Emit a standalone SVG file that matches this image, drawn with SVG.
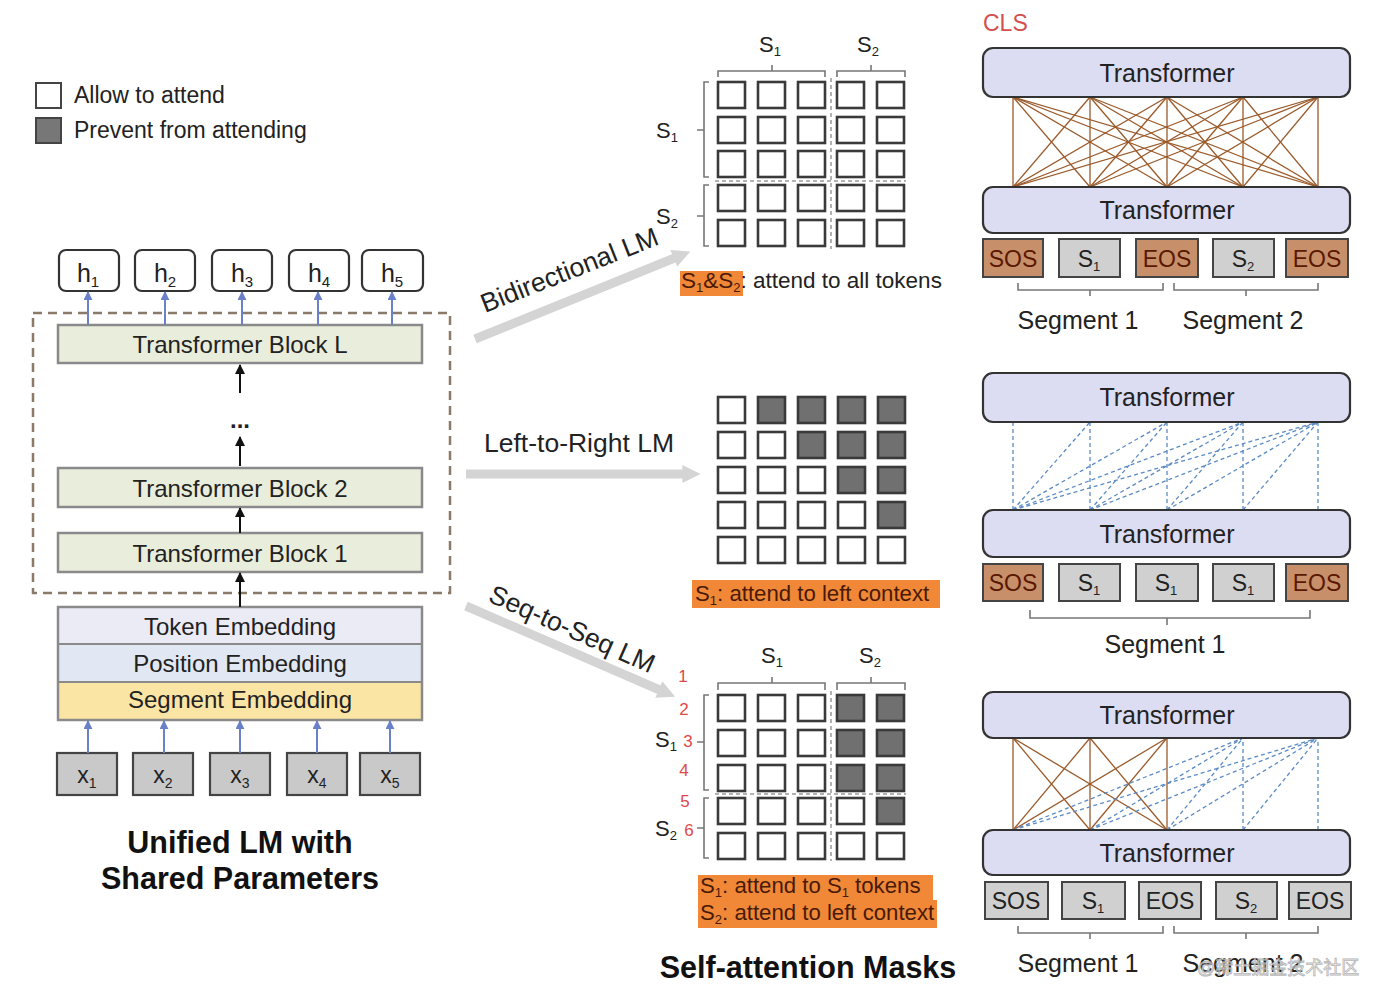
<svg xmlns="http://www.w3.org/2000/svg" width="1382" height="1004" viewBox="0 0 1382 1004">
<defs>
<style>
text{font-family:"Liberation Sans",Arial,sans-serif;fill:#222}
.lg{font-size:23px}
.ttl{font-size:30.5px;font-weight:bold;fill:#111;text-anchor:middle}
.blk{fill:#e9eddc;stroke:#8a8a8a;stroke-width:2.5}
.bt{font-size:24px;text-anchor:middle}
.hb{fill:#fff;stroke:#333;stroke-width:2.2}
.xb{fill:#c9c9c9;stroke:#444;stroke-width:2.2}
.ht{font-size:25px;text-anchor:middle}
.c{fill:#fff;stroke:#3a3a3a;stroke-width:2.6}
.d{fill:#707070;stroke:#3a3a3a;stroke-width:2.6}
.br{fill:none;stroke:#777;stroke-width:1.6}
.sep{fill:none;stroke:#999;stroke-width:1.5;stroke-dasharray:4 3}
.ga{stroke:#d4d4d4;stroke-width:9;fill:none}
.ml{font-size:26.5px}
.sl{font-size:22px}
.tr{fill:#dcdcf3;stroke:#333;stroke-width:2.2}
.trt{font-size:25px;text-anchor:middle}
.tok{fill:#d0d0d0;stroke:#444;stroke-width:2}
.sp{fill:#c8906a;stroke:#444;stroke-width:2}
.tt{font-size:23px;text-anchor:middle}
.bl{stroke:#9a5a2a;stroke-width:1.3}
.dl{stroke:#5b8bc4;stroke-width:1.3;stroke-dasharray:4 3}
.or{fill:#f08838}
.ot{fill:#4a1a05;font-size:22.2px}
.red{fill:#e04848;font-size:17px;text-anchor:middle}
.blue{stroke:#6a80c8;stroke-width:2}
.blk2{stroke:#111;stroke-width:2}
.seg{font-size:25px;text-anchor:middle}
</style>
<marker id="mb" viewBox="0 0 10 10" refX="9" refY="5" markerWidth="9" markerHeight="9" markerUnits="userSpaceOnUse" orient="auto"><path d="M0,0 L10,5 L0,10 z" fill="#6a80c8"/></marker>
<marker id="mk" viewBox="0 0 10 10" refX="9" refY="5" markerWidth="10" markerHeight="10" markerUnits="userSpaceOnUse" orient="auto"><path d="M0,0 L10,5 L0,10 z" fill="#111"/></marker>
<marker id="mg" viewBox="0 0 10 10" refX="2" refY="5" markerWidth="18" markerHeight="20" markerUnits="userSpaceOnUse" orient="auto"><path d="M0,0 L10,5 L0,10 z" fill="#d4d4d4"/></marker>
</defs>
<rect width="1382" height="1004" fill="#fff"/>

<!-- Legend -->
<g id="legend">
<rect x="36" y="83" width="25" height="25" fill="#fff" stroke="#444" stroke-width="2"/>
<text class="lg" x="74" y="103">Allow to attend</text>
<rect x="36" y="118" width="25" height="25" fill="#777" stroke="#444" stroke-width="2"/>
<text class="lg" x="74" y="138">Prevent from attending</text>
</g>

<!-- Left model -->
<g id="shared-box"><rect x="33" y="313" width="417" height="280" fill="none" stroke="#8c7a68" stroke-width="2.5" stroke-dasharray="9 6"/></g>
<g id="h1"><rect class="hb" x="59" y="250" width="60" height="41" rx="7"/><text class="ht" x="88" y="282">h<tspan font-size="15" dy="5">1</tspan></text></g>
<g id="h2"><rect class="hb" x="135" y="250" width="60" height="41" rx="7"/><text class="ht" x="165" y="282">h<tspan font-size="15" dy="5">2</tspan></text></g>
<g id="h3"><rect class="hb" x="212" y="250" width="60" height="41" rx="7"/><text class="ht" x="242" y="282">h<tspan font-size="15" dy="5">3</tspan></text></g>
<g id="h4"><rect class="hb" x="289" y="250" width="60" height="41" rx="7"/><text class="ht" x="319" y="282">h<tspan font-size="15" dy="5">4</tspan></text></g>
<g id="h5"><rect class="hb" x="362" y="250" width="61" height="41" rx="7"/><text class="ht" x="392" y="282">h<tspan font-size="15" dy="5">5</tspan></text></g>
<g id="blockL"><rect class="blk" x="58" y="325" width="364" height="38"/><text class="bt" x="240" y="353">Transformer Block L</text></g>
<g id="dots"><text x="240" y="428" font-size="24" text-anchor="middle" font-weight="bold">...</text></g>
<g id="block2"><rect class="blk" x="58" y="468" width="364" height="39"/><text class="bt" x="240" y="497">Transformer Block 2</text></g>
<g id="block1"><rect class="blk" x="58" y="533" width="364" height="39"/><text class="bt" x="240" y="562">Transformer Block 1</text></g>
<g id="embeddings">
<rect x="58" y="607" width="364" height="37" fill="#ebebf5"/>
<rect x="58" y="644" width="364" height="38" fill="#e1e7f3"/>
<rect x="58" y="682" width="364" height="38" fill="#fbe5a5"/>
<rect x="58" y="607" width="364" height="113" fill="none" stroke="#8a8a8a" stroke-width="2.5"/>
<line x1="58" y1="644" x2="422" y2="644" stroke="#8a8a8a" stroke-width="2"/>
<line x1="58" y1="682" x2="422" y2="682" stroke="#8a8a8a" stroke-width="2"/>
<text class="bt" x="240" y="635">Token Embedding</text>
<text class="bt" x="240" y="672">Position Embedding</text>
<text class="bt" x="240" y="708">Segment Embedding</text>
</g>
<g id="x1"><rect class="xb" x="57" y="753" width="60" height="42"/><text class="tt" x="87" y="783">x<tspan font-size="14" dy="5">1</tspan></text></g>
<g id="x2"><rect class="xb" x="133" y="753" width="60" height="42"/><text class="tt" x="163" y="783">x<tspan font-size="14" dy="5">2</tspan></text></g>
<g id="x3"><rect class="xb" x="210" y="753" width="60" height="42"/><text class="tt" x="240" y="783">x<tspan font-size="14" dy="5">3</tspan></text></g>
<g id="x4"><rect class="xb" x="287" y="753" width="60" height="42"/><text class="tt" x="317" y="783">x<tspan font-size="14" dy="5">4</tspan></text></g>
<g id="x5"><rect class="xb" x="360" y="753" width="60" height="42"/><text class="tt" x="390" y="783">x<tspan font-size="14" dy="5">5</tspan></text></g>
<g id="title-left">
<text class="ttl" x="240" y="853">Unified LM with</text>
<text class="ttl" x="240" y="889">Shared Parameters</text>
</g>

<!-- Left connectors -->
<g id="left-connectors">
<line class="blue" x1="88" y1="325" x2="88" y2="292" marker-end="url(#mb)"/>
<line class="blue" x1="165" y1="325" x2="165" y2="292" marker-end="url(#mb)"/>
<line class="blue" x1="242" y1="325" x2="242" y2="292" marker-end="url(#mb)"/>
<line class="blue" x1="318" y1="325" x2="318" y2="292" marker-end="url(#mb)"/>
<line class="blue" x1="392" y1="325" x2="392" y2="292" marker-end="url(#mb)"/>
<line class="blk2" x1="240" y1="393" x2="240" y2="365" marker-end="url(#mk)"/>
<line class="blk2" x1="240" y1="466" x2="240" y2="437" marker-end="url(#mk)"/>
<line class="blk2" x1="240" y1="533" x2="240" y2="508" marker-end="url(#mk)"/>
<line class="blk2" x1="240" y1="607" x2="240" y2="573" marker-end="url(#mk)"/>
<line class="blue" x1="88" y1="753" x2="88" y2="721" marker-end="url(#mb)"/>
<line class="blue" x1="164" y1="753" x2="164" y2="721" marker-end="url(#mb)"/>
<line class="blue" x1="240" y1="753" x2="240" y2="721" marker-end="url(#mb)"/>
<line class="blue" x1="317" y1="753" x2="317" y2="721" marker-end="url(#mb)"/>
<line class="blue" x1="390" y1="753" x2="390" y2="721" marker-end="url(#mb)"/>
</g>

<!-- Gray arrows -->
<g id="mode-arrows">
<line class="ga" x1="475" y1="339" x2="677" y2="257" marker-end="url(#mg)"/>
<line class="ga" x1="466" y1="474" x2="686" y2="474" marker-end="url(#mg)"/>
<line class="ga" x1="466" y1="606" x2="662" y2="691" marker-end="url(#mg)"/>
</g>
<g id="mode-labels">
<text class="ml" transform="translate(485,313) rotate(-21.5)">Bidirectional LM</text>
<text class="ml" x="484" y="452">Left-to-Right LM</text>
<text class="ml" transform="translate(487,601) rotate(24)" font-size="27">Seq-to-Seq LM</text>
</g>

<!-- Mask 1 : Bidirectional -->
<g id="mask-bidirectional">
<text class="sl" x="770" y="52" text-anchor="middle">S<tspan font-size="13" dy="4">1</tspan></text>
<text class="sl" x="868" y="52" text-anchor="middle">S<tspan font-size="13" dy="4">2</tspan></text>
<path class="br" d="M718,77 V71 H825 V77 M772,71 V65 M837,77 V71 H905 V77 M871,71 V65"/>
<path class="br" d="M709,82 H704 V177 H709 M704,130 H697 M709,185 H704 V246 H709 M704,216 H697"/>
<text class="sl" x="656" y="138">S<tspan font-size="13" dy="4">1</tspan></text>
<text class="sl" x="656" y="224">S<tspan font-size="13" dy="4">2</tspan></text>
<line class="sep" x1="831" y1="78" x2="831" y2="249"/>
<line class="sep" x1="715" y1="181" x2="906" y2="181"/>
<rect class="c" x="718" y="82" width="27" height="26"/><rect class="c" x="758" y="82" width="27" height="26"/><rect class="c" x="798" y="82" width="27" height="26"/><rect class="c" x="837" y="82" width="27" height="26"/><rect class="c" x="877" y="82" width="27" height="26"/>
<rect class="c" x="718" y="117" width="27" height="26"/><rect class="c" x="758" y="117" width="27" height="26"/><rect class="c" x="798" y="117" width="27" height="26"/><rect class="c" x="837" y="117" width="27" height="26"/><rect class="c" x="877" y="117" width="27" height="26"/>
<rect class="c" x="718" y="151" width="27" height="26"/><rect class="c" x="758" y="151" width="27" height="26"/><rect class="c" x="798" y="151" width="27" height="26"/><rect class="c" x="837" y="151" width="27" height="26"/><rect class="c" x="877" y="151" width="27" height="26"/>
<rect class="c" x="718" y="185" width="27" height="26"/><rect class="c" x="758" y="185" width="27" height="26"/><rect class="c" x="798" y="185" width="27" height="26"/><rect class="c" x="837" y="185" width="27" height="26"/><rect class="c" x="877" y="185" width="27" height="26"/>
<rect class="c" x="718" y="220" width="27" height="26"/><rect class="c" x="758" y="220" width="27" height="26"/><rect class="c" x="798" y="220" width="27" height="26"/><rect class="c" x="837" y="220" width="27" height="26"/><rect class="c" x="877" y="220" width="27" height="26"/>
<rect class="or" x="680" y="271" width="63" height="25"/>
<text x="681" y="288" font-size="22.5"><tspan fill="#4a1a05">S<tspan font-size="13" dy="4">1</tspan><tspan dy="-4">&amp;S</tspan><tspan font-size="13" dy="4">2</tspan></tspan><tspan dy="-4">: attend to all tokens</tspan></text>
</g>

<!-- Mask 2 : Left-to-Right -->
<g id="mask-left-to-right">
<rect class="c" x="718" y="397" width="27" height="26"/><rect class="d" x="758" y="397" width="27" height="26"/><rect class="d" x="798" y="397" width="27" height="26"/><rect class="d" x="838" y="397" width="27" height="26"/><rect class="d" x="878" y="397" width="27" height="26"/>
<rect class="c" x="718" y="432" width="27" height="26"/><rect class="c" x="758" y="432" width="27" height="26"/><rect class="d" x="798" y="432" width="27" height="26"/><rect class="d" x="838" y="432" width="27" height="26"/><rect class="d" x="878" y="432" width="27" height="26"/>
<rect class="c" x="718" y="467" width="27" height="26"/><rect class="c" x="758" y="467" width="27" height="26"/><rect class="c" x="798" y="467" width="27" height="26"/><rect class="d" x="838" y="467" width="27" height="26"/><rect class="d" x="878" y="467" width="27" height="26"/>
<rect class="c" x="718" y="502" width="27" height="26"/><rect class="c" x="758" y="502" width="27" height="26"/><rect class="c" x="798" y="502" width="27" height="26"/><rect class="c" x="838" y="502" width="27" height="26"/><rect class="d" x="878" y="502" width="27" height="26"/>
<rect class="c" x="718" y="537" width="27" height="26"/><rect class="c" x="758" y="537" width="27" height="26"/><rect class="c" x="798" y="537" width="27" height="26"/><rect class="c" x="838" y="537" width="27" height="26"/><rect class="c" x="878" y="537" width="27" height="26"/>
<rect class="or" x="692" y="580" width="248" height="28"/>
<text class="ot" x="695" y="601">S<tspan font-size="13" dy="4">1</tspan><tspan dy="-4">: attend to left context</tspan></text>
</g>

<!-- Mask 3 : Seq-to-Seq -->
<g id="mask-seq-to-seq">
<text class="sl" x="772" y="663" text-anchor="middle">S<tspan font-size="13" dy="4">1</tspan></text>
<text class="sl" x="870" y="663" text-anchor="middle">S<tspan font-size="13" dy="4">2</tspan></text>
<path class="br" d="M718,690 V683 H825 V690 M772,683 V677 M837,690 V683 H905 V690 M871,683 V677"/>
<path class="br" d="M709,695 H704 V790 H709 M704,742 H697 M709,798 H704 V858 H709 M704,828 H697"/>
<text class="sl" x="655" y="747">S<tspan font-size="13" dy="4">1</tspan></text>
<text class="sl" x="655" y="836">S<tspan font-size="13" dy="4">2</tspan></text>
<text class="red" x="683" y="682">1</text>
<text class="red" x="684" y="715">2</text>
<text class="red" x="688" y="747">3</text>
<text class="red" x="684" y="776">4</text>
<text class="red" x="685" y="807">5</text>
<text class="red" x="689" y="836">6</text>
<line class="sep" x1="831" y1="691" x2="831" y2="861"/>
<line class="sep" x1="715" y1="794" x2="906" y2="794"/>
<rect class="c" x="718" y="695" width="27" height="26"/><rect class="c" x="758" y="695" width="27" height="26"/><rect class="c" x="798" y="695" width="27" height="26"/><rect class="d" x="837" y="695" width="27" height="26"/><rect class="d" x="877" y="695" width="27" height="26"/>
<rect class="c" x="718" y="730" width="27" height="26"/><rect class="c" x="758" y="730" width="27" height="26"/><rect class="c" x="798" y="730" width="27" height="26"/><rect class="d" x="837" y="730" width="27" height="26"/><rect class="d" x="877" y="730" width="27" height="26"/>
<rect class="c" x="718" y="765" width="27" height="26"/><rect class="c" x="758" y="765" width="27" height="26"/><rect class="c" x="798" y="765" width="27" height="26"/><rect class="d" x="837" y="765" width="27" height="26"/><rect class="d" x="877" y="765" width="27" height="26"/>
<rect class="c" x="718" y="798" width="27" height="26"/><rect class="c" x="758" y="798" width="27" height="26"/><rect class="c" x="798" y="798" width="27" height="26"/><rect class="c" x="837" y="798" width="27" height="26"/><rect class="d" x="877" y="798" width="27" height="26"/>
<rect class="c" x="718" y="833" width="27" height="26"/><rect class="c" x="758" y="833" width="27" height="26"/><rect class="c" x="798" y="833" width="27" height="26"/><rect class="c" x="837" y="833" width="27" height="26"/><rect class="c" x="877" y="833" width="27" height="26"/>
<rect class="or" x="698" y="875" width="235" height="25"/>
<rect class="or" x="698" y="900" width="239" height="28"/>
<text class="ot" x="700" y="893">S<tspan font-size="13" dy="4">1</tspan><tspan dy="-4">: attend to S</tspan><tspan font-size="13" dy="4">1</tspan><tspan dy="-4"> tokens</tspan></text>
<text class="ot" x="700" y="920">S<tspan font-size="13" dy="4">2</tspan><tspan dy="-4">: attend to left context</tspan></text>
</g>
<g id="title-middle"><text class="ttl" x="808" y="978">Self-attention Masks</text></g>

<!-- Right: BERT style -->
<g id="cls"><text x="983" y="31" font-size="23" style="fill:#d45050">CLS</text></g>
<g id="connectors-bi">
<line class="bl" x1="1013" y1="187" x2="1013" y2="97"/><line class="bl" x1="1013" y1="187" x2="1090" y2="97"/><line class="bl" x1="1013" y1="187" x2="1167" y2="97"/><line class="bl" x1="1013" y1="187" x2="1243" y2="97"/><line class="bl" x1="1013" y1="187" x2="1318" y2="97"/>
<line class="bl" x1="1090" y1="187" x2="1013" y2="97"/><line class="bl" x1="1090" y1="187" x2="1090" y2="97"/><line class="bl" x1="1090" y1="187" x2="1167" y2="97"/><line class="bl" x1="1090" y1="187" x2="1243" y2="97"/><line class="bl" x1="1090" y1="187" x2="1318" y2="97"/>
<line class="bl" x1="1167" y1="187" x2="1013" y2="97"/><line class="bl" x1="1167" y1="187" x2="1090" y2="97"/><line class="bl" x1="1167" y1="187" x2="1167" y2="97"/><line class="bl" x1="1167" y1="187" x2="1243" y2="97"/><line class="bl" x1="1167" y1="187" x2="1318" y2="97"/>
<line class="bl" x1="1243" y1="187" x2="1013" y2="97"/><line class="bl" x1="1243" y1="187" x2="1090" y2="97"/><line class="bl" x1="1243" y1="187" x2="1167" y2="97"/><line class="bl" x1="1243" y1="187" x2="1243" y2="97"/><line class="bl" x1="1243" y1="187" x2="1318" y2="97"/>
<line class="bl" x1="1318" y1="187" x2="1013" y2="97"/><line class="bl" x1="1318" y1="187" x2="1090" y2="97"/><line class="bl" x1="1318" y1="187" x2="1167" y2="97"/><line class="bl" x1="1318" y1="187" x2="1243" y2="97"/><line class="bl" x1="1318" y1="187" x2="1318" y2="97"/>
</g>
<g id="bi-transformer-top"><rect class="tr" x="983" y="48" width="367" height="49" rx="10"/><text class="trt" x="1167" y="82">Transformer</text></g>
<g id="bi-transformer-bottom"><rect class="tr" x="983" y="187" width="367" height="46" rx="10"/><text class="trt" x="1167" y="219">Transformer</text></g>
<g id="bi-tokens">
<rect class="sp" x="983" y="239" width="60" height="38"/><text class="tt" x="1013" y="267" style="fill:#5a1800">SOS</text>
<rect class="tok" x="1059" y="239" width="61" height="38"/><text class="tt" x="1089" y="267">S<tspan font-size="13" dy="4">1</tspan></text>
<rect class="sp" x="1136" y="239" width="62" height="38"/><text class="tt" x="1167" y="267" style="fill:#5a1800">EOS</text>
<rect class="tok" x="1213" y="239" width="61" height="38"/><text class="tt" x="1243" y="267">S<tspan font-size="13" dy="4">2</tspan></text>
<rect class="sp" x="1286" y="239" width="62" height="38"/><text class="tt" x="1317" y="267" style="fill:#5a1800">EOS</text>
</g>
<g id="bi-segments">
<path class="br" d="M1018,283 V290 H1163 V283 M1090,290 V296 M1174,283 V290 H1318 V283 M1246,290 V296"/>
<text class="seg" x="1078" y="329">Segment 1</text>
<text class="seg" x="1243" y="329">Segment 2</text>
</g>

<!-- Right: Left-to-right -->
<g id="connectors-l2r">
<line class="dl" x1="1013" y1="510" x2="1013" y2="422"/><line class="dl" x1="1013" y1="510" x2="1090" y2="422"/><line class="dl" x1="1013" y1="510" x2="1167" y2="422"/><line class="dl" x1="1013" y1="510" x2="1243" y2="422"/><line class="dl" x1="1013" y1="510" x2="1318" y2="422"/>
<line class="dl" x1="1090" y1="510" x2="1090" y2="422"/><line class="dl" x1="1090" y1="510" x2="1167" y2="422"/><line class="dl" x1="1090" y1="510" x2="1243" y2="422"/><line class="dl" x1="1090" y1="510" x2="1318" y2="422"/>
<line class="dl" x1="1167" y1="510" x2="1167" y2="422"/><line class="dl" x1="1167" y1="510" x2="1243" y2="422"/><line class="dl" x1="1167" y1="510" x2="1318" y2="422"/>
<line class="dl" x1="1243" y1="510" x2="1243" y2="422"/><line class="dl" x1="1243" y1="510" x2="1318" y2="422"/>
<line class="dl" x1="1318" y1="510" x2="1318" y2="422"/>
</g>
<g id="l2r-transformer-top"><rect class="tr" x="983" y="373" width="367" height="49" rx="10"/><text class="trt" x="1167" y="406">Transformer</text></g>
<g id="l2r-transformer-bottom"><rect class="tr" x="983" y="510" width="367" height="47" rx="10"/><text class="trt" x="1167" y="543">Transformer</text></g>
<g id="l2r-tokens">
<rect class="sp" x="983" y="564" width="60" height="37"/><text class="tt" x="1013" y="591" style="fill:#5a1800">SOS</text>
<rect class="tok" x="1059" y="564" width="61" height="37"/><text class="tt" x="1089" y="591">S<tspan font-size="13" dy="4">1</tspan></text>
<rect class="tok" x="1136" y="564" width="62" height="37"/><text class="tt" x="1166" y="591">S<tspan font-size="13" dy="4">1</tspan></text>
<rect class="tok" x="1213" y="564" width="61" height="37"/><text class="tt" x="1243" y="591">S<tspan font-size="13" dy="4">1</tspan></text>
<rect class="sp" x="1286" y="564" width="62" height="37"/><text class="tt" x="1317" y="591" style="fill:#5a1800">EOS</text>
</g>
<g id="l2r-segment">
<path class="br" d="M1030,610 V618 H1310 V610 M1167,618 V625"/>
<text class="seg" x="1165" y="653">Segment 1</text>
</g>

<!-- Right: Seq-to-seq -->
<g id="connectors-s2s">
<line class="bl" x1="1013" y1="830" x2="1013" y2="738"/><line class="bl" x1="1013" y1="830" x2="1090" y2="738"/><line class="bl" x1="1013" y1="830" x2="1167" y2="738"/>
<line class="bl" x1="1090" y1="830" x2="1013" y2="738"/><line class="bl" x1="1090" y1="830" x2="1090" y2="738"/><line class="bl" x1="1090" y1="830" x2="1167" y2="738"/>
<line class="bl" x1="1167" y1="830" x2="1013" y2="738"/><line class="bl" x1="1167" y1="830" x2="1090" y2="738"/><line class="bl" x1="1167" y1="830" x2="1167" y2="738"/>
<line class="dl" x1="1013" y1="830" x2="1243" y2="738"/><line class="dl" x1="1013" y1="830" x2="1318" y2="738"/>
<line class="dl" x1="1090" y1="830" x2="1243" y2="738"/><line class="dl" x1="1090" y1="830" x2="1318" y2="738"/>
<line class="dl" x1="1167" y1="830" x2="1243" y2="738"/><line class="dl" x1="1167" y1="830" x2="1318" y2="738"/>
<line class="dl" x1="1243" y1="830" x2="1243" y2="738"/><line class="dl" x1="1243" y1="830" x2="1318" y2="738"/>
<line class="dl" x1="1318" y1="830" x2="1318" y2="738"/>
</g>
<g id="s2s-transformer-top"><rect class="tr" x="983" y="692" width="367" height="46" rx="10"/><text class="trt" x="1167" y="724">Transformer</text></g>
<g id="s2s-transformer-bottom"><rect class="tr" x="983" y="830" width="367" height="45" rx="10"/><text class="trt" x="1167" y="862">Transformer</text></g>
<g id="s2s-tokens">
<rect class="tok" x="985" y="882" width="63" height="37"/><text class="tt" x="1016" y="909">SOS</text>
<rect class="tok" x="1062" y="882" width="63" height="37"/><text class="tt" x="1093" y="909">S<tspan font-size="13" dy="4">1</tspan></text>
<rect class="tok" x="1139" y="882" width="62" height="37"/><text class="tt" x="1170" y="909">EOS</text>
<rect class="tok" x="1216" y="882" width="61" height="37"/><text class="tt" x="1246" y="909">S<tspan font-size="13" dy="4">2</tspan></text>
<rect class="tok" x="1289" y="882" width="62" height="37"/><text class="tt" x="1320" y="909">EOS</text>
</g>
<g id="s2s-segments">
<path class="br" d="M1018,926 V933 H1163 V926 M1090,933 V939 M1174,926 V933 H1318 V926 M1246,933 V939"/>
<text class="seg" x="1078" y="972">Segment 1</text>
<text class="seg" x="1243" y="972">Segment 2</text>
</g>
<g id="watermark"><text x="1197" y="974" font-size="18" style="fill:#ffffff;stroke:#aaaaaa;stroke-width:0.8;opacity:0.85;font-family:'Liberation Sans','Noto Sans CJK SC',sans-serif">@稀土掘金技术社区</text></g>
</svg>
